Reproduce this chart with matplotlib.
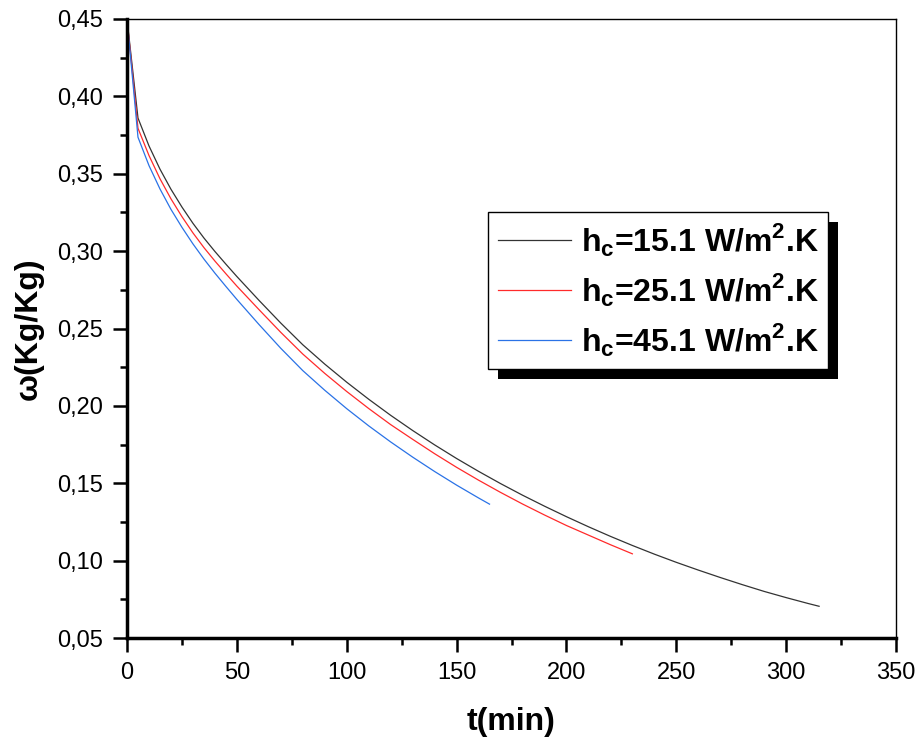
import matplotlib
matplotlib.use("Agg")
import matplotlib.pyplot as plt
from matplotlib.patches import Rectangle
from matplotlib.transforms import IdentityTransform
from matplotlib.ticker import MultipleLocator

plt.rcParams['font.family'] = ['Liberation Sans', 'DejaVu Sans']
plt.rcParams['mathtext.fontset'] = 'custom'
plt.rcParams['mathtext.rm'] = 'Liberation Sans'
plt.rcParams['mathtext.bf'] = 'Liberation Sans:bold'

# data
t_15 = [0, 5, 10, 15, 20, 25, 30, 35, 40, 45, 50, 60, 70, 80, 90, 100, 110, 120, 130, 140, 150,
        160, 170, 180, 190, 200, 210, 220, 230, 240, 250, 260, 270, 280, 290, 300, 310, 315]
w_15 = [0.450, 0.386, 0.368, 0.353, 0.340, 0.3285, 0.318, 0.3085, 0.2998, 0.2916, 0.2836,
        0.2683, 0.2535, 0.2395, 0.2270, 0.2153, 0.2043, 0.1939, 0.1841, 0.1748, 0.1660,
        0.1577, 0.1498, 0.1423, 0.1352, 0.1284, 0.1219, 0.1157, 0.1098, 0.1042, 0.0989,
        0.0939, 0.0891, 0.0845, 0.0801, 0.0761, 0.0723, 0.0705]
t_25 = [0, 5, 10, 15, 20, 25, 30, 35, 40, 45, 50, 60, 70, 80, 90, 100, 110, 120, 130, 140, 150,
        160, 170, 180, 190, 200, 210, 220, 230]
w_25 = [0.450, 0.3794, 0.3618, 0.3468, 0.3338, 0.3223, 0.3118, 0.3023, 0.2936, 0.2854, 0.2774,
        0.2623, 0.2475, 0.2335, 0.2210, 0.2093, 0.1983, 0.1879, 0.1784, 0.1691, 0.1603,
        0.1520, 0.1441, 0.1366, 0.1295, 0.1227, 0.1165, 0.1103, 0.1044]
t_45 = [0, 5, 10, 15, 20, 25, 30, 35, 40, 45, 50, 60, 70, 80, 90, 100, 110, 120, 130, 140, 150,
        160, 165]
w_45 = [0.450, 0.3736, 0.3553, 0.3402, 0.3270, 0.3154, 0.3047, 0.2949, 0.2858, 0.2772, 0.2688,
        0.2527, 0.2372, 0.2228, 0.2101, 0.1982, 0.1871, 0.1767, 0.1669, 0.1576, 0.1488,
        0.1405, 0.1365]
labels = [r'h$_{\mathbf{c}}$=15.1 W/m$^{\mathbf{2}}$.K',
          r'h$_{\mathbf{c}}$=25.1 W/m$^{\mathbf{2}}$.K',
          r'h$_{\mathbf{c}}$=45.1 W/m$^{\mathbf{2}}$.K']
colors = ['#333333', '#ff2a2a', '#2a72e6']
x_ticks = [0, 50, 100, 150, 200, 250, 300, 350]
y_ticks = [0.05, 0.10, 0.15, 0.20, 0.25, 0.30, 0.35, 0.40, 0.45]
y_ticklabels = ['0,05', '0,10', '0,15', '0,20', '0,25', '0,30', '0,35', '0,40', '0,45']

fig = plt.figure(figsize=(9.21, 7.42), dpi=100)
ax = fig.add_axes([127/921, 1-638/742, (896-127)/921, (638-19)/742])

for t, w, lab, c in zip([t_15, t_25, t_45], [w_15, w_25, w_45], labels, colors):
    ax.plot(t, w, color=c, lw=0.9, label=lab)

ax.set_xlim(0, 350)
ax.set_ylim(0.05, 0.45)
ax.set_xticks(x_ticks)
ax.set_xticklabels([str(v) for v in x_ticks])
ax.set_yticks(y_ticks)
ax.set_yticklabels(y_ticklabels)
ax.xaxis.set_minor_locator(MultipleLocator(25))
ax.yaxis.set_minor_locator(MultipleLocator(0.025))
ax.tick_params(which='major', direction='out', length=10, width=1.8, labelsize=17, pad=7,
               top=False, right=False)
ax.tick_params(which='minor', direction='out', length=5, width=1.8, top=False, right=False)
for s in ['left', 'bottom']:
    ax.spines[s].set_linewidth(2.5)
for s in ['top', 'right']:
    ax.spines[s].set_linewidth(1.0)

ax.set_xlabel('t(min)', fontsize=23, fontweight='bold', labelpad=17)
ax.set_ylabel('ω(Kg/Kg)', fontsize=23, fontweight='bold', labelpad=10)

leg = ax.legend(loc='upper left', bbox_to_anchor=((488-127)/769, 1-(211.7-19)/619),
                prop={'size': 23, 'weight': 'bold'}, frameon=True, fancybox=False,
                edgecolor='black', facecolor='white', framealpha=1.0,
                handlelength=2.3, labelspacing=0.4, borderpad=0.3,
                handletextpad=0.3, borderaxespad=0)
leg.get_frame().set_linewidth(1.0)
leg.set_zorder(6)

fig.canvas.draw()
bb = leg.get_window_extent()
shadow = Rectangle((bb.x0 + 10, bb.y0 - 10), bb.width, bb.height, transform=IdentityTransform(),
                   facecolor='black', edgecolor='none', zorder=5.5, clip_on=False)
ax.add_artist(shadow)

fig.savefig('out.png', dpi=100)
